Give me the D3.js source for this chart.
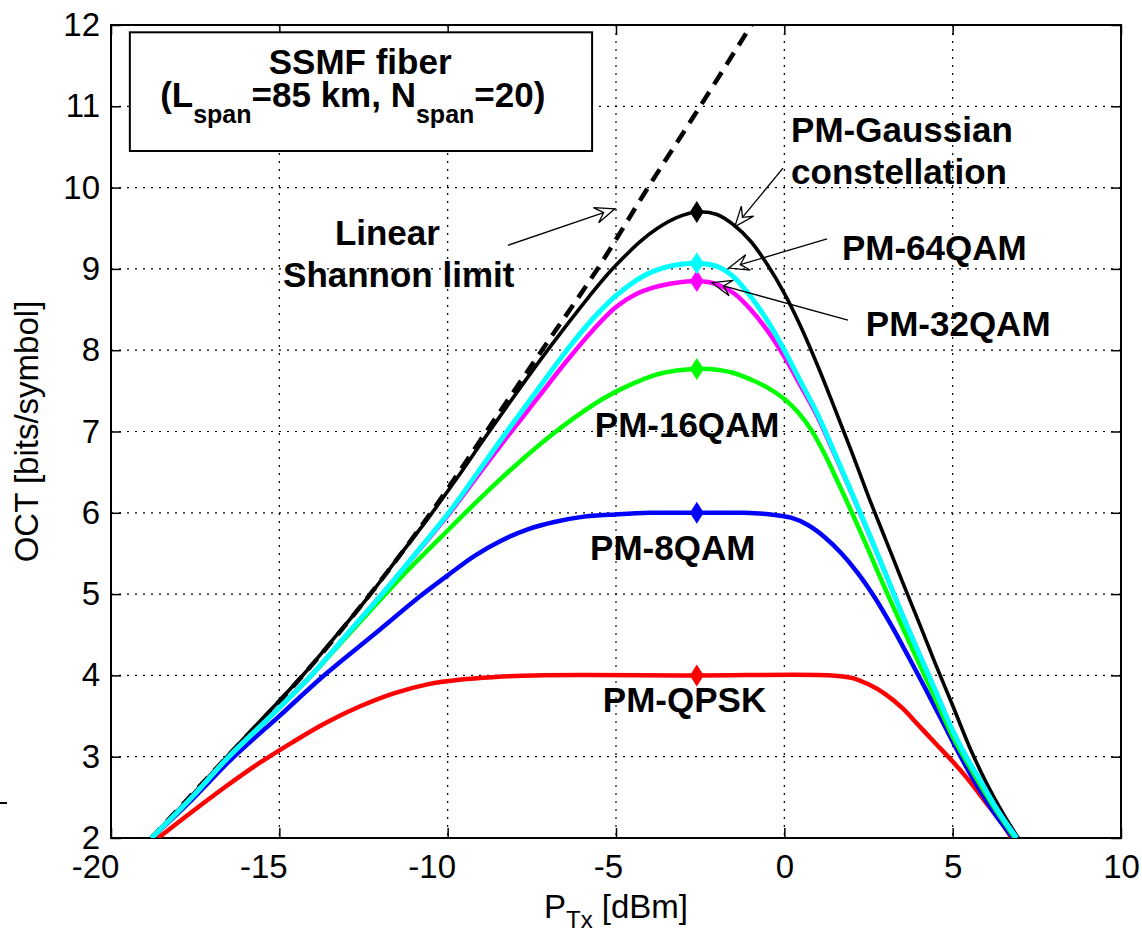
<!doctype html>
<html>
<head>
<meta charset="utf-8">
<title>OCT vs launch power</title>
<script src="https://d3js.org/d3.v7.min.js"></script>
<style>
  body { margin: 0; background: #fff; }
  svg text { font-family: "Liberation Sans", Arial, Helvetica, sans-serif; fill: #000; }
  .bold { font-weight: bold; font-size: 35px; }
</style>
</head>
<body>
<div class="chart"></div>
<script>
// ---- data (x = PTx in dBm, y = OCT in bits/symbol) ----
var xTicks = [-20, -15, -10, -5, 0, 5, 10];
var yTicks = [2, 3, 4, 5, 6, 7, 8, 9, 10, 11, 12];

var shannonLimit = [[-18.8,2],[-16.55,3],[-14.3,4],[-12.3,5],[-10.5,6],[-8.85,7],[-7.2,8],[-5.55,9],[-4.05,10],[-2.5,11],[-0.98,12]];

var gaussian = [[-18.8,2],[-17.7,2.48],[-16.6,2.98],[-15.5,3.47],[-14.35,3.98],[-13.35,4.47],[-12.35,4.97],[-11.45,5.46],[-10.55,5.95],[-9.7,6.44],[-8.9,6.92],[-8.1,7.39],[-7.3,7.85],[-6.5,8.29],[-5.8,8.66],[-5.3,8.91],[-4.8,9.13],[-4.3,9.33],[-3.8,9.49],[-3.2,9.63],[-2.6,9.70],[-2.0,9.67],[-1.5,9.54],[-1.0,9.34],[-0.5,9.05],[0,8.7],[0.5,8.28],[1.0,7.8],[1.5,7.28],[2.0,6.75],[2.5,6.2],[3.0,5.68],[3.5,5.16],[4.0,4.65],[4.5,4.13],[5.0,3.63],[5.5,3.12],[6.0,2.68],[6.5,2.3],[6.95,2.0]];

var qam64 = [[-18.8,2],[-17.6,2.5],[-16.5,3],[-15.25,3.5],[-14.05,4],[-13.0,4.5],[-11.95,5],[-10.95,5.5],[-9.97,6],[-9.1,6.5],[-8.24,7],[-7.35,7.5],[-6.46,8],[-5.7,8.38],[-5.0,8.67],[-4.4,8.86],[-3.9,8.97],[-3.2,9.05],[-2.6,9.07],[-2.0,9.03],[-1.5,8.9],[-1.0,8.66],[-0.5,8.36],[0,8.0],[0.5,7.6],[1.0,7.2],[1.5,6.73],[2.0,6.25],[2.5,5.76],[3.0,5.26],[3.5,4.75],[4.0,4.27],[4.5,3.8],[5.0,3.32],[5.4,3.0],[5.8,2.72],[6.35,2.33],[6.9,2.0]];

var qam32 = [[-18.8,2],[-17.6,2.5],[-16.5,3],[-15.25,3.5],[-14.05,4],[-13.0,4.5],[-11.95,5],[-10.95,5.49],[-9.97,5.98],[-9.1,6.46],[-8.24,6.93],[-7.35,7.4],[-6.46,7.87],[-5.7,8.24],[-5.0,8.53],[-4.4,8.69],[-3.9,8.77],[-3.2,8.83],[-2.6,8.85],[-2.0,8.81],[-1.5,8.7],[-1.0,8.5],[-0.5,8.24],[0,7.92],[0.5,7.55],[1.0,7.17],[1.5,6.71],[2.0,6.24],[2.5,5.75],[3.0,5.26],[3.5,4.75],[4.0,4.27],[4.5,3.8],[5.0,3.32],[5.4,3.0],[5.8,2.72],[6.35,2.33],[6.9,2.0]];

var qam16 = [[-18.8,2],[-17.6,2.5],[-16.5,3],[-15.25,3.5],[-14.05,4],[-12.95,4.5],[-11.85,5],[-11.0,5.37],[-10.2,5.7],[-9.4,6.03],[-8.6,6.35],[-7.8,6.65],[-7.0,6.93],[-6.2,7.18],[-5.4,7.4],[-4.6,7.57],[-3.8,7.7],[-3.2,7.75],[-2.6,7.77],[-2.0,7.76],[-1.5,7.72],[-1.0,7.64],[-0.5,7.54],[0,7.4],[0.4,7.24],[0.8,7.02],[1.2,6.72],[1.6,6.37],[2.0,6.01],[2.5,5.54],[3.0,5.06],[3.5,4.6],[4.0,4.15],[4.5,3.7],[5.0,3.25],[5.4,2.95],[5.9,2.6],[6.4,2.27],[6.85,2.0]];

var qam8 = [[-18.8,2],[-17.6,2.47],[-16.4,2.98],[-15.0,3.5],[-13.7,3.99],[-12.2,4.5],[-10.8,4.98],[-10.0,5.23],[-9.2,5.47],[-8.4,5.66],[-7.6,5.8],[-6.8,5.89],[-6.0,5.95],[-5.0,5.98],[-4.0,6.0],[-2.6,6.0],[-1.2,6.0],[-0.4,5.98],[0.2,5.94],[0.7,5.85],[1.2,5.7],[1.7,5.5],[2.2,5.25],[2.7,4.95],[3.2,4.6],[3.7,4.22],[4.2,3.83],[4.7,3.43],[5.2,3.03],[5.7,2.66],[6.25,2.3],[6.8,2.0]];

var qpsk = [[-18.6,2],[-17.6,2.32],[-16.6,2.63],[-15.6,2.92],[-14.6,3.18],[-13.6,3.42],[-12.6,3.62],[-11.6,3.78],[-10.6,3.89],[-9.6,3.95],[-8.6,3.98],[-7.4,4.0],[-2.6,4.0],[1.4,4.0],[2.0,3.97],[2.5,3.89],[3.0,3.77],[3.5,3.6],[4.0,3.38],[4.5,3.16],[5.0,2.94],[5.5,2.7],[6.0,2.43],[6.4,2.22],[6.75,2.0]];

// optimum launch power markers
var peakX = -2.6;
var peaks = [
  {y: 4.0,  color: "#ff0000"},
  {y: 6.0,  color: "#0000ff"},
  {y: 7.77, color: "#00ff00"},
  {y: 8.85, color: "#ff00ff"},
  {y: 9.07, color: "#00ffff"},
  {y: 9.70, color: "#000000"}
];

// text labels (data coordinates of the text start)
var labels = [
  {t: "PM-Gaussian",   x: 0.2,   y: 10.56},
  {t: "constellation", x: 0.2,   y: 10.04},
  {t: "PM-64QAM",      x: 1.71,  y: 9.11},
  {t: "PM-32QAM",      x: 2.42,  y: 8.17},
  {t: "PM-16QAM",      x: -5.63, y: 6.93},
  {t: "PM-8QAM",       x: -5.77, y: 5.42},
  {t: "PM-QPSK",       x: -5.39, y: 3.55},
  {t: "Linear",        x: -13.35, y: 9.29},
  {t: "Shannon limit", x: -14.89, y: 8.78}
];

// arrows: tail -> tip
var arrows = [
  [-8.21, 9.29, -5.03, 9.74],
  [-0.04, 10.24, -1.47, 9.52],
  [1.27, 9.37, -1.65, 9.01],
  [1.89, 8.37, -2.15, 8.83]
];

var width = 1142, height = 937;

var x = d3.scaleLinear().domain([-20, 10]).range([111, 1121]);
var y = d3.scaleLinear().domain([2, 12]).range([838, 25]);

var svg = d3.select(".chart").append("svg")
            .attr("width", width)
            .attr("height", height);

svg.append("defs").append("clipPath").attr("id", "plotclip")
   .append("rect")
   .attr("x", x(-20)).attr("y", y(12))
   .attr("width", x(10) - x(-20)).attr("height", y(2) - y(12));

// grid
var grid = svg.append("g").attr("stroke", "#000").attr("stroke-width", 1.2).attr("stroke-dasharray", "2,6");
grid.selectAll(".vg").data(xTicks.slice(1, -1)).enter().append("line")
    .attr("x1", function(d){ return x(d); }).attr("x2", function(d){ return x(d); })
    .attr("y1", y(12)).attr("y2", y(2));
grid.selectAll(".hg").data(yTicks.slice(1, -1)).enter().append("line")
    .attr("y1", function(d){ return y(d); }).attr("y2", function(d){ return y(d); })
    .attr("x1", x(-20)).attr("x2", x(10));

// axes
var xAxis = svg.append("g").attr("transform", "translate(0," + y(2) + ")")
    .call(d3.axisBottom(x).tickValues(xTicks).tickSizeInner(-10).tickSizeOuter(0).tickPadding(17)
          .tickFormat(function(d){ return d; }));
xAxis.selectAll("text").attr("dx", function(d){ return d < 0 ? -8 * (String(d).length - 1) : 0; });

svg.append("g").attr("transform", "translate(" + x(-20) + ",0)")
    .call(d3.axisLeft(y).tickValues(yTicks).tickSizeInner(-10).tickSizeOuter(0).tickPadding(11));
svg.append("g").attr("transform", "translate(0," + y(12) + ")")
    .call(d3.axisTop(x).tickValues(xTicks).tickSizeInner(-10).tickSizeOuter(0).tickFormat(""));
svg.append("g").attr("transform", "translate(" + x(10) + ",0)")
    .call(d3.axisRight(y).tickValues(yTicks).tickSizeInner(-10).tickSizeOuter(0).tickFormat(""));

svg.selectAll(".domain").remove();
svg.selectAll(".tick line").attr("stroke", "#000").attr("stroke-width", 1.5);
svg.selectAll(".tick text").style("font-size", "33px").attr("fill", "#000");

// box around the plot
svg.append("rect")
   .attr("x", x(-20)).attr("y", y(12))
   .attr("width", x(10) - x(-20)).attr("height", y(2) - y(12))
   .attr("fill", "none").attr("stroke", "#000").attr("stroke-width", 2);

// curves
var line = d3.line()
             .x(function(d){ return x(d[0]); })
             .y(function(d){ return y(d[1]); })
             .curve(d3.curveCatmullRom.alpha(0.5));

var plot = svg.append("g").attr("clip-path", "url(#plotclip)");

var series = [
  {d: gaussian, color: "#000000", w: 3.6},
  {d: qpsk,     color: "#ff0000", w: 4.5},
  {d: qam8,     color: "#0000ff", w: 4.5},
  {d: qam16,    color: "#00ff00", w: 4.5},
  {d: qam32,    color: "#ff00ff", w: 4.5},
  {d: qam64,    color: "#00ffff", w: 5}
];

plot.append("path").datum(shannonLimit)
    .attr("d", line).attr("fill", "none")
    .attr("stroke", "#000").attr("stroke-width", 4.5)
    .attr("stroke-dasharray", "14,9");

plot.selectAll(".curve").data(series).enter().append("path")
    .attr("class", "curve")
    .attr("d", function(s){ return line(s.d); })
    .attr("fill", "none")
    .attr("stroke", function(s){ return s.color; })
    .attr("stroke-width", function(s){ return s.w; })
    .attr("stroke-linejoin", "round");

// diamond markers
plot.selectAll(".mk").data(peaks).enter().append("path")
    .attr("d", function(p){
       var cx = x(peakX), cy = y(p.y);
       return "M" + cx + "," + (cy - 11) + "L" + (cx + 7) + "," + cy + "L" + cx + "," + (cy + 11) + "L" + (cx - 7) + "," + cy + "Z";
    })
    .attr("fill", function(p){ return p.color; });

// annotation box
svg.append("rect")
   .attr("x", x(-19.44)).attr("y", y(11.91))
   .attr("width", x(-5.71) - x(-19.44)).attr("height", y(10.45) - y(11.91))
   .attr("fill", "#fff").attr("stroke", "#000").attr("stroke-width", 2);

svg.append("text").attr("class", "bold")
   .attr("x", x(-12.6)).attr("y", y(11.4))
   .attr("text-anchor", "middle").text("SSMF fiber");

var t2 = svg.append("text").attr("class", "bold").attr("x", x(-18.54)).attr("y", y(10.99));
t2.append("tspan").text("(L");
t2.append("tspan").attr("dy", 16).style("font-size", "25px").text("span");
t2.append("tspan").attr("dy", -16).text("=85 km, N");
t2.append("tspan").attr("dy", 16).style("font-size", "25px").text("span");
t2.append("tspan").attr("dy", -16).text("=20)");

// labels
svg.selectAll(".lbl").data(labels).enter().append("text")
   .attr("class", "bold")
   .attr("x", function(d){ return x(d.x); })
   .attr("y", function(d){ return y(d.y); })
   .text(function(d){ return d.t; });

// arrows
var ag = svg.append("g").attr("stroke", "#000").attr("fill", "none").attr("stroke-width", 1.3);
arrows.forEach(function(a){
   var x1 = x(a[0]), y1 = y(a[1]), x2 = x(a[2]), y2 = y(a[3]);
   var ang = Math.atan2(y2 - y1, x2 - x1);
   var ux = Math.cos(ang), uy = Math.sin(ang);
   var L = 20, W = 8, N = 12;
   var b1 = [x2 - L * ux - W * uy, y2 - L * uy + W * ux];
   var b2 = [x2 - L * ux + W * uy, y2 - L * uy - W * ux];
   var nb = [x2 - N * ux, y2 - N * uy];
   ag.append("line").attr("x1", x1).attr("y1", y1).attr("x2", nb[0]).attr("y2", nb[1]);
   ag.append("path").attr("d", "M" + b1 + "L" + x2 + "," + y2 + "L" + b2 + "L" + nb + "Z");
});

// axis titles
var xt = svg.append("text").attr("x", x(-5)).attr("y", 918).attr("text-anchor", "middle").style("font-size", "33px");
xt.append("tspan").text("P");
xt.append("tspan").attr("dy", 10).style("font-size", "24px").text("Tx");
xt.append("tspan").attr("dy", -10).text(" [dBm]");

svg.append("text")
   .attr("transform", "translate(38," + y(7) + ") rotate(-90)")
   .attr("text-anchor", "middle").style("font-size", "33px")
   .text("OCT [bits/symbol]");

// stray mark at the left edge of the original figure
svg.append("line").attr("x1", 0).attr("x2", 7).attr("y1", 803).attr("y2", 803)
   .attr("stroke", "#000").attr("stroke-width", 2);
</script>
</body>
</html>
